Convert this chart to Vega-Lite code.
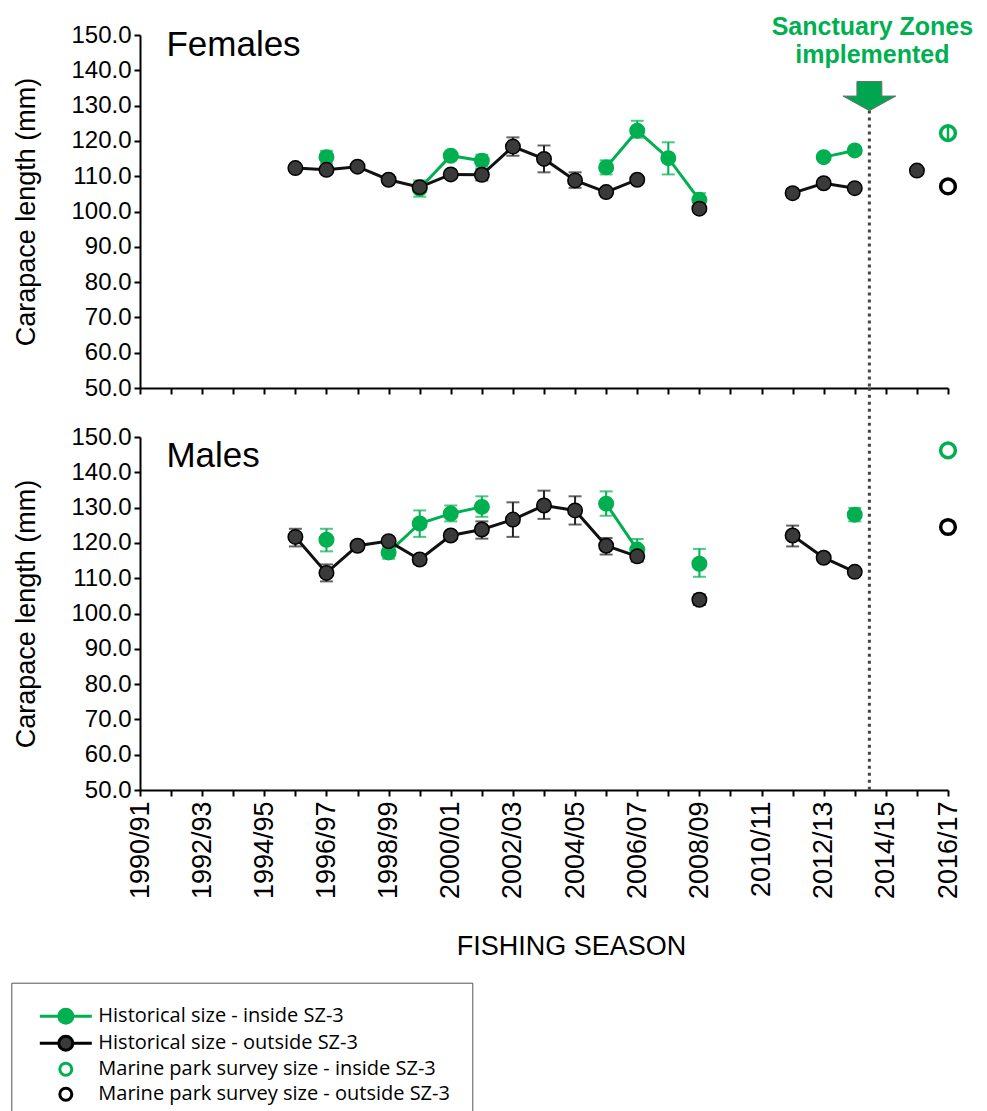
{
  "$schema": "https://vega.github.io/schema/vega-lite/v6.json",
  "padding": {"left": 10, "top": 14, "right": 0, "bottom": 0},
  "background": "white",
  "bounds": "flush",
  "spacing": 49,
  "config": {
    "view": {"stroke": null},
    "font": "Liberation Sans",
    "axis": {
      "grid": false, "domainColor": "black", "domainWidth": 2, "tickColor": "black", "tickWidth": 2, "tickSize": 6,
      "labelFont": "Liberation Sans", "labelFontSize": 24, "labelColor": "black",
      "titleFont": "Liberation Sans", "titleFontSize": 27, "titleFontWeight": "normal", "titleColor": "black"
    },
    "axisY": {"titlePadding": 30, "labelPadding": 3},
    "axisX": {"labelFontSize": 27, "titlePadding": 35, "titleFontSize": 27, "labelPadding": 5},
    "legend": {
      "orient": "none", "legendX": -128.7, "legendY": 947.7, "direction": "vertical",
      "labelFont": "Open Sans", "labelFontSize": 20, "labelColor": "black", "strokeColor": "#555555",
      "padding": 22, "rowPadding": 0, "symbolSize": 400, "symbolStrokeWidth": 3, "symbolOffset": 21, "labelOffset": 21, "labelLimit": 500
    }
  },
  "datasets": {
    "d": [
      {"kind": "event", "label": "Sanctuary Zones\nimplemented", "year": 2013.47},
      {"kind": "panel", "sex": "F", "label": "Females"},
      {"kind": "panel", "sex": "M", "label": "Males"},
      {"sex": "F", "series": "Historical size - inside SZ-3", "year": 1996, "len": 115.4, "lo": 113.6, "hi": 117.2, "seg": "i1"},
      {"sex": "F", "series": "Historical size - inside SZ-3", "year": 1999, "len": 106.5, "lo": 104.2, "hi": 108.8, "seg": "i2"},
      {"sex": "F", "series": "Historical size - inside SZ-3", "year": 2000, "len": 115.8, "seg": "i2"},
      {"sex": "F", "series": "Historical size - inside SZ-3", "year": 2001, "len": 114.4, "lo": 112.7, "hi": 116.1, "seg": "i2"},
      {"sex": "F", "series": "Historical size - inside SZ-3", "year": 2005, "len": 112.5, "lo": 110.5, "hi": 114.5, "seg": "i3"},
      {"sex": "F", "series": "Historical size - inside SZ-3", "year": 2006, "len": 122.9, "lo": 120.9, "hi": 125.7, "seg": "i3"},
      {"sex": "F", "series": "Historical size - inside SZ-3", "year": 2007, "len": 115.1, "lo": 110.5, "hi": 119.6, "seg": "i3"},
      {"sex": "F", "series": "Historical size - inside SZ-3", "year": 2008, "len": 103.3, "lo": 101.4, "hi": 105.2, "seg": "i3"},
      {"sex": "F", "series": "Historical size - inside SZ-3", "year": 2012, "len": 115.4, "seg": "i4"},
      {"sex": "F", "series": "Historical size - inside SZ-3", "year": 2013, "len": 117.3, "seg": "i4"},
      {"sex": "F", "series": "Marine park survey size - inside SZ-3", "year": 2016, "len": 122.2, "lo": 120.4, "hi": 124.0, "seg": "s1"},
      {"sex": "F", "series": "Historical size - outside SZ-3", "year": 1995, "len": 112.3, "seg": "o1"},
      {"sex": "F", "series": "Historical size - outside SZ-3", "year": 1996, "len": 111.8, "seg": "o1"},
      {"sex": "F", "series": "Historical size - outside SZ-3", "year": 1997, "len": 112.7, "seg": "o1"},
      {"sex": "F", "series": "Historical size - outside SZ-3", "year": 1998, "len": 109.0, "seg": "o1"},
      {"sex": "F", "series": "Historical size - outside SZ-3", "year": 1999, "len": 106.9, "seg": "o1"},
      {"sex": "F", "series": "Historical size - outside SZ-3", "year": 2000, "len": 110.5, "seg": "o1"},
      {"sex": "F", "series": "Historical size - outside SZ-3", "year": 2001, "len": 110.4, "lo": 108.8, "hi": 112.0, "seg": "o1"},
      {"sex": "F", "series": "Historical size - outside SZ-3", "year": 2002, "len": 118.4, "lo": 115.8, "hi": 121.0, "seg": "o1"},
      {"sex": "F", "series": "Historical size - outside SZ-3", "year": 2003, "len": 114.9, "lo": 111.1, "hi": 118.7, "seg": "o1"},
      {"sex": "F", "series": "Historical size - outside SZ-3", "year": 2004, "len": 108.8, "lo": 106.7, "hi": 111.1, "seg": "o1"},
      {"sex": "F", "series": "Historical size - outside SZ-3", "year": 2005, "len": 105.5, "seg": "o1"},
      {"sex": "F", "series": "Historical size - outside SZ-3", "year": 2006, "len": 109.0, "seg": "o1"},
      {"sex": "F", "series": "Historical size - outside SZ-3", "year": 2008, "len": 100.8, "seg": "o2"},
      {"sex": "F", "series": "Historical size - outside SZ-3", "year": 2011, "len": 105.2, "lo": 104.0, "hi": 106.4, "seg": "o3"},
      {"sex": "F", "series": "Historical size - outside SZ-3", "year": 2012, "len": 108.0, "seg": "o3"},
      {"sex": "F", "series": "Historical size - outside SZ-3", "year": 2013, "len": 106.6, "seg": "o3"},
      {"sex": "F", "series": "Historical size - outside SZ-3", "year": 2015, "len": 111.6, "seg": "o4"},
      {"sex": "F", "series": "Marine park survey size - outside SZ-3", "year": 2016, "len": 107.1, "seg": "s2"},

      {"sex": "M", "series": "Historical size - inside SZ-3", "year": 1996, "len": 120.9, "lo": 117.6, "hi": 124.0, "seg": "i1"},
      {"sex": "M", "series": "Historical size - inside SZ-3", "year": 1998, "len": 117.3, "lo": 115.5, "hi": 119.1, "seg": "i2"},
      {"sex": "M", "series": "Historical size - inside SZ-3", "year": 1999, "len": 125.5, "lo": 121.7, "hi": 129.2, "seg": "i2"},
      {"sex": "M", "series": "Historical size - inside SZ-3", "year": 2000, "len": 128.3, "lo": 126.1, "hi": 130.6, "seg": "i2"},
      {"sex": "M", "series": "Historical size - inside SZ-3", "year": 2001, "len": 130.2, "lo": 127.4, "hi": 133.2, "seg": "i2"},
      {"sex": "M", "series": "Historical size - inside SZ-3", "year": 2005, "len": 131.1, "lo": 127.7, "hi": 134.6, "seg": "i3"},
      {"sex": "M", "series": "Historical size - inside SZ-3", "year": 2006, "len": 118.1, "lo": 115.1, "hi": 121.1, "seg": "i3"},
      {"sex": "M", "series": "Historical size - inside SZ-3", "year": 2008, "len": 114.1, "lo": 110.4, "hi": 118.3, "seg": "i4"},
      {"sex": "M", "series": "Historical size - inside SZ-3", "year": 2013, "len": 128.0, "lo": 126.1, "hi": 129.9, "seg": "i5"},
      {"sex": "M", "series": "Marine park survey size - inside SZ-3", "year": 2016, "len": 146.2, "seg": "s1"},
      {"sex": "M", "series": "Historical size - outside SZ-3", "year": 1995, "len": 121.7, "lo": 119.0, "hi": 124.0, "seg": "o1"},
      {"sex": "M", "series": "Historical size - outside SZ-3", "year": 1996, "len": 111.5, "lo": 109.1, "hi": 113.9, "seg": "o1"},
      {"sex": "M", "series": "Historical size - outside SZ-3", "year": 1997, "len": 119.2, "lo": 118.0, "hi": 120.4, "seg": "o1"},
      {"sex": "M", "series": "Historical size - outside SZ-3", "year": 1998, "len": 120.5, "seg": "o1"},
      {"sex": "M", "series": "Historical size - outside SZ-3", "year": 1999, "len": 115.3, "lo": 114.0, "hi": 116.5, "seg": "o1"},
      {"sex": "M", "series": "Historical size - outside SZ-3", "year": 2000, "len": 122.1, "seg": "o1"},
      {"sex": "M", "series": "Historical size - outside SZ-3", "year": 2001, "len": 123.8, "lo": 121.2, "hi": 126.1, "seg": "o1"},
      {"sex": "M", "series": "Historical size - outside SZ-3", "year": 2002, "len": 126.6, "lo": 121.7, "hi": 131.5, "seg": "o1"},
      {"sex": "M", "series": "Historical size - outside SZ-3", "year": 2003, "len": 130.6, "lo": 126.8, "hi": 134.8, "seg": "o1"},
      {"sex": "M", "series": "Historical size - outside SZ-3", "year": 2004, "len": 129.2, "lo": 125.2, "hi": 133.2, "seg": "o1"},
      {"sex": "M", "series": "Historical size - outside SZ-3", "year": 2005, "len": 119.2, "lo": 116.7, "hi": 121.4, "seg": "o1"},
      {"sex": "M", "series": "Historical size - outside SZ-3", "year": 2006, "len": 116.2, "lo": 114.7, "hi": 117.7, "seg": "o1"},
      {"sex": "M", "series": "Historical size - outside SZ-3", "year": 2008, "len": 103.9, "lo": 102.4, "hi": 105.4, "seg": "o2"},
      {"sex": "M", "series": "Historical size - outside SZ-3", "year": 2011, "len": 122.1, "lo": 119.0, "hi": 124.9, "seg": "o3"},
      {"sex": "M", "series": "Historical size - outside SZ-3", "year": 2012, "len": 115.8, "seg": "o3"},
      {"sex": "M", "series": "Historical size - outside SZ-3", "year": 2013, "len": 111.8, "seg": "o3"},
      {"sex": "M", "series": "Marine park survey size - outside SZ-3", "year": 2016, "len": 124.5, "seg": "s2"}
    ]
  },
  "vconcat": [
    {
      "width": 808,
      "height": 353,
      "data": {"name": "d"},
      "layer": [
        {
          "transform": [{"filter": "datum.kind == 'event'"}],
          "mark": {"type": "rule", "strokeDash": [3, 4], "strokeWidth": 3, "color": "#444444"},
          "encoding": {
            "x": {"field": "year", "type": "quantitative", "scale": {"domain": [1990, 2016], "nice": false, "zero": false},
                  "axis": {"values": [1990,1991,1992,1993,1994,1995,1996,1997,1998,1999,2000,2001,2002,2003,2004,2005,2006,2007,2008,2009,2010,2011,2012,2013,2014,2015,2016], "labels": false, "title": null}},
            "y": {"datum": 128.6, "type": "quantitative", "scale": {"domain": [50, 150], "nice": false, "zero": false},
                  "axis": {"values": [50,60,70,80,90,100,110,120,130,140,150], "format": ".1f", "title": "Carapace length (mm)"}},
            "y2": {"datum": 50}
          }
        },
        {
          "transform": [{"filter": "datum.sex == 'F' && isValid(datum.lo) && datum.series == 'Historical size - inside SZ-3'"}],
          "mark": {"type": "errorbar", "ticks": {"size": 13}, "thickness": 2, "color": "#00b050"},
          "encoding": {
            "x": {"field": "year", "type": "quantitative", "scale": {"domain": [1990, 2016], "nice": false, "zero": false},
                  "axis": {"values": [1990,1991,1992,1993,1994,1995,1996,1997,1998,1999,2000,2001,2002,2003,2004,2005,2006,2007,2008,2009,2010,2011,2012,2013,2014,2015,2016], "labels": false, "title": null}},
            "y": {"field": "lo", "type": "quantitative", "title": "Carapace length (mm)", "scale": {"domain": [50, 150], "nice": false, "zero": false},
                  "axis": {"values": [50,60,70,80,90,100,110,120,130,140,150], "format": ".1f", "title": "Carapace length (mm)"}},
            "y2": {"field": "hi"}
          }
        },
        {
          "transform": [{"filter": "datum.sex == 'F' && isValid(datum.lo) && datum.series == 'Historical size - outside SZ-3'"}],
          "mark": {"type": "errorbar", "ticks": {"size": 13}, "thickness": 2, "color": "#222222"},
          "encoding": {
            "x": {"field": "year", "type": "quantitative", "scale": {"domain": [1990, 2016], "nice": false, "zero": false},
                  "axis": {"values": [1990,1991,1992,1993,1994,1995,1996,1997,1998,1999,2000,2001,2002,2003,2004,2005,2006,2007,2008,2009,2010,2011,2012,2013,2014,2015,2016], "labels": false, "title": null}},
            "y": {"field": "lo", "type": "quantitative", "title": "Carapace length (mm)", "scale": {"domain": [50, 150], "nice": false, "zero": false},
                  "axis": {"values": [50,60,70,80,90,100,110,120,130,140,150], "format": ".1f", "title": "Carapace length (mm)"}},
            "y2": {"field": "hi"}
          }
        },
        {
          "transform": [{"filter": "datum.sex == 'F' && datum.series == 'Historical size - inside SZ-3'"}],
          "mark": {"type": "line", "strokeWidth": 3, "color": "#00b050"},
          "encoding": {
            "x": {"field": "year", "type": "quantitative", "scale": {"domain": [1990, 2016], "nice": false, "zero": false},
                  "axis": {"values": [1990,1991,1992,1993,1994,1995,1996,1997,1998,1999,2000,2001,2002,2003,2004,2005,2006,2007,2008,2009,2010,2011,2012,2013,2014,2015,2016], "labels": false, "title": null}},
            "y": {"field": "len", "type": "quantitative", "scale": {"domain": [50, 150], "nice": false, "zero": false},
                  "axis": {"values": [50,60,70,80,90,100,110,120,130,140,150], "format": ".1f", "title": "Carapace length (mm)"}},
            "detail": {"field": "seg"}
          }
        },
        {
          "transform": [{"filter": "datum.sex == 'F' && datum.series == 'Historical size - outside SZ-3'"}],
          "mark": {"type": "line", "strokeWidth": 3, "color": "#111111"},
          "encoding": {
            "x": {"field": "year", "type": "quantitative", "scale": {"domain": [1990, 2016], "nice": false, "zero": false},
                  "axis": {"values": [1990,1991,1992,1993,1994,1995,1996,1997,1998,1999,2000,2001,2002,2003,2004,2005,2006,2007,2008,2009,2010,2011,2012,2013,2014,2015,2016], "labels": false, "title": null}},
            "y": {"field": "len", "type": "quantitative", "scale": {"domain": [50, 150], "nice": false, "zero": false},
                  "axis": {"values": [50,60,70,80,90,100,110,120,130,140,150], "format": ".1f", "title": "Carapace length (mm)"}},
            "detail": {"field": "seg"}
          }
        },
        {
          "transform": [{"filter": "datum.sex == 'F' && isValid(datum.series) && indexof(datum.series, 'Historical') == 0"}],
          "mark": {"type": "point", "filled": true, "size": 210, "strokeWidth": 1.5, "opacity": 1},
          "encoding": {
            "x": {"field": "year", "type": "quantitative", "scale": {"domain": [1990, 2016], "nice": false, "zero": false},
                  "axis": {"values": [1990,1991,1992,1993,1994,1995,1996,1997,1998,1999,2000,2001,2002,2003,2004,2005,2006,2007,2008,2009,2010,2011,2012,2013,2014,2015,2016], "labels": false, "title": null}},
            "y": {"field": "len", "type": "quantitative", "scale": {"domain": [50, 150], "nice": false, "zero": false},
                  "axis": {"values": [50,60,70,80,90,100,110,120,130,140,150], "format": ".1f", "title": "Carapace length (mm)"}},
            "stroke": {"field": "series", "type": "nominal", "title": null,
                       "scale": {"domain": ["Historical size - inside SZ-3", "Historical size - outside SZ-3", "Marine park survey size - inside SZ-3", "Marine park survey size - outside SZ-3"],
                                 "range": ["#00b050", "#000000", "#00b050", "#000000"]}},
            "fill": {"field": "series", "type": "nominal", "title": null,
                     "scale": {"domain": ["Historical size - inside SZ-3", "Historical size - outside SZ-3", "Marine park survey size - inside SZ-3", "Marine park survey size - outside SZ-3"],
                               "range": ["#00b050", "#3a3a3a", "transparent", "transparent"]}}
          }
        },
        {
          "transform": [{"filter": "datum.sex == 'F' && isValid(datum.lo) && isValid(datum.series) && indexof(datum.series, 'Marine') == 0"}],
          "mark": {"type": "rule", "strokeWidth": 2.5, "color": "#00b050"},
          "encoding": {
            "x": {"field": "year", "type": "quantitative", "scale": {"domain": [1990, 2016], "nice": false, "zero": false},
                  "axis": {"values": [1990,1991,1992,1993,1994,1995,1996,1997,1998,1999,2000,2001,2002,2003,2004,2005,2006,2007,2008,2009,2010,2011,2012,2013,2014,2015,2016], "labels": false, "title": null}},
            "y": {"field": "lo", "type": "quantitative", "title": "Carapace length (mm)", "scale": {"domain": [50, 150], "nice": false, "zero": false},
                  "axis": {"values": [50,60,70,80,90,100,110,120,130,140,150], "format": ".1f", "title": "Carapace length (mm)"}},
            "y2": {"field": "hi"}
          }
        },
        {
          "transform": [{"filter": "datum.sex == 'F' && isValid(datum.series) && indexof(datum.series, 'Marine') == 0"}],
          "mark": {"type": "point", "filled": true, "size": 600, "strokeWidth": 3.5, "opacity": 1},
          "encoding": {
            "x": {"field": "year", "type": "quantitative", "scale": {"domain": [1990, 2016], "nice": false, "zero": false},
                  "axis": {"values": [1990,1991,1992,1993,1994,1995,1996,1997,1998,1999,2000,2001,2002,2003,2004,2005,2006,2007,2008,2009,2010,2011,2012,2013,2014,2015,2016], "labels": false, "title": null}},
            "y": {"field": "len", "type": "quantitative", "scale": {"domain": [50, 150], "nice": false, "zero": false},
                  "axis": {"values": [50,60,70,80,90,100,110,120,130,140,150], "format": ".1f", "title": "Carapace length (mm)"}},
            "stroke": {"field": "series", "type": "nominal", "title": null},
            "fill": {"field": "series", "type": "nominal", "title": null},
            "shape": {"field": "series", "type": "nominal", "title": null,
                      "scale": {"domain": ["Historical size - inside SZ-3", "Historical size - outside SZ-3", "Marine park survey size - inside SZ-3", "Marine park survey size - outside SZ-3"],
                                "range": ["M-2.6,0H-0.7A0.7,0.7,0,1,1,0.7,0A0.7,0.7,0,1,1,-0.7,0M0.7,0H2.6", "M-2.6,0H-0.7A0.7,0.7,0,1,1,0.7,0A0.7,0.7,0,1,1,-0.7,0M0.7,0H2.6", "M-0.6,0A0.6,0.6,0,1,1,0.6,0A0.6,0.6,0,1,1,-0.6,0Z", "M-0.6,0A0.6,0.6,0,1,1,0.6,0A0.6,0.6,0,1,1,-0.6,0Z"]}}
          }
        },
        {
          "transform": [{"filter": "datum.kind == 'event'"}],
          "mark": {"type": "point", "shape": "M-0.47,-0.55H0.47V0H1L0,0.55L-1,0H-0.47Z", "size": 2809, "filled": true, "fill": "#00a550", "stroke": "#707070", "strokeWidth": 1, "opacity": 1},
          "encoding": {
            "x": {"field": "year", "type": "quantitative", "scale": {"domain": [1990, 2016], "nice": false, "zero": false},
                  "axis": {"values": [1990,1991,1992,1993,1994,1995,1996,1997,1998,1999,2000,2001,2002,2003,2004,2005,2006,2007,2008,2009,2010,2011,2012,2013,2014,2015,2016], "labels": false, "title": null}},
            "y": {"datum": 132.7, "type": "quantitative", "scale": {"domain": [50, 150], "nice": false, "zero": false},
                  "axis": {"values": [50,60,70,80,90,100,110,120,130,140,150], "format": ".1f", "title": "Carapace length (mm)"}}
          }
        },
        {
          "transform": [{"filter": "datum.kind == 'event'"}],
          "mark": {"type": "text", "align": "center", "baseline": "alphabetic", "fontSize": 25, "fontWeight": "bold", "lineHeight": 28, "color": "#00b050", "font": "Liberation Sans", "lineBreak": "\n", "dx": 3},
          "encoding": {
            "x": {"field": "year", "type": "quantitative", "scale": {"domain": [1990, 2016], "nice": false, "zero": false},
                  "axis": {"values": [1990,1991,1992,1993,1994,1995,1996,1997,1998,1999,2000,2001,2002,2003,2004,2005,2006,2007,2008,2009,2010,2011,2012,2013,2014,2015,2016], "labels": false, "title": null}},
            "y": {"datum": 150.1, "type": "quantitative", "scale": {"domain": [50, 150], "nice": false, "zero": false},
                  "axis": {"values": [50,60,70,80,90,100,110,120,130,140,150], "format": ".1f", "title": "Carapace length (mm)"}},
            "text": {"field": "label"}
          }
        },
        {
          "transform": [{"filter": "datum.kind == 'panel' && datum.sex == 'F'"}],
          "mark": {"type": "text", "align": "left", "baseline": "alphabetic", "fontSize": 35, "color": "black", "font": "Liberation Sans"},
          "encoding": {
            "text": {"field": "label"},
            "x": {"datum": 1990.85, "type": "quantitative", "scale": {"domain": [1990, 2016], "nice": false, "zero": false},
                  "axis": {"values": [1990,1991,1992,1993,1994,1995,1996,1997,1998,1999,2000,2001,2002,2003,2004,2005,2006,2007,2008,2009,2010,2011,2012,2013,2014,2015,2016], "labels": false, "title": null}},
            "y": {"datum": 144.1, "type": "quantitative", "scale": {"domain": [50, 150], "nice": false, "zero": false},
                  "axis": {"values": [50,60,70,80,90,100,110,120,130,140,150], "format": ".1f", "title": "Carapace length (mm)"}}
          }
        }
      ]
    },
    {
      "width": 808,
      "height": 353,
      "data": {"name": "d"},
      "layer": [
        {
          "transform": [{"filter": "datum.kind == 'event'"}],
          "mark": {"type": "rule", "strokeDash": [3, 4], "strokeWidth": 3, "color": "#444444"},
          "encoding": {
            "x": {"field": "year", "type": "quantitative", "scale": {"domain": [1990, 2016], "nice": false, "zero": false},
                  "axis": {"values": [1990,1991,1992,1993,1994,1995,1996,1997,1998,1999,2000,2001,2002,2003,2004,2005,2006,2007,2008,2009,2010,2011,2012,2013,2014,2015,2016],
                           "labelExpr": "datum.value % 2 == 0 ? datum.value + '/' + substring(toString(datum.value + 1), 2, 4) : ''",
                           "labelAngle": 270, "labelOverlap": false, "labelFlush": false, "title": "FISHING SEASON", "titleX": 431, "titleAlign": "center"}},
            "y": {"datum": 163.95, "type": "quantitative", "scale": {"domain": [50, 150], "nice": false, "zero": false},
                  "axis": {"values": [50,60,70,80,90,100,110,120,130,140,150], "format": ".1f", "title": "Carapace length (mm)"}},
            "y2": {"datum": 50}
          }
        },
        {
          "transform": [{"filter": "datum.sex == 'M' && isValid(datum.lo) && datum.series == 'Historical size - inside SZ-3'"}],
          "mark": {"type": "errorbar", "ticks": {"size": 13}, "thickness": 2, "color": "#00b050"},
          "encoding": {
            "x": {"field": "year", "type": "quantitative", "scale": {"domain": [1990, 2016], "nice": false, "zero": false},
                  "axis": {"values": [1990,1991,1992,1993,1994,1995,1996,1997,1998,1999,2000,2001,2002,2003,2004,2005,2006,2007,2008,2009,2010,2011,2012,2013,2014,2015,2016],
                           "labelExpr": "datum.value % 2 == 0 ? datum.value + '/' + substring(toString(datum.value + 1), 2, 4) : ''",
                           "labelAngle": 270, "labelOverlap": false, "labelFlush": false, "title": "FISHING SEASON", "titleX": 431, "titleAlign": "center"}},
            "y": {"field": "lo", "type": "quantitative", "title": "Carapace length (mm)", "scale": {"domain": [50, 150], "nice": false, "zero": false},
                  "axis": {"values": [50,60,70,80,90,100,110,120,130,140,150], "format": ".1f", "title": "Carapace length (mm)"}},
            "y2": {"field": "hi"}
          }
        },
        {
          "transform": [{"filter": "datum.sex == 'M' && isValid(datum.lo) && datum.series == 'Historical size - outside SZ-3'"}],
          "mark": {"type": "errorbar", "ticks": {"size": 13}, "thickness": 2, "color": "#222222"},
          "encoding": {
            "x": {"field": "year", "type": "quantitative", "scale": {"domain": [1990, 2016], "nice": false, "zero": false},
                  "axis": {"values": [1990,1991,1992,1993,1994,1995,1996,1997,1998,1999,2000,2001,2002,2003,2004,2005,2006,2007,2008,2009,2010,2011,2012,2013,2014,2015,2016],
                           "labelExpr": "datum.value % 2 == 0 ? datum.value + '/' + substring(toString(datum.value + 1), 2, 4) : ''",
                           "labelAngle": 270, "labelOverlap": false, "labelFlush": false, "title": "FISHING SEASON", "titleX": 431, "titleAlign": "center"}},
            "y": {"field": "lo", "type": "quantitative", "title": "Carapace length (mm)", "scale": {"domain": [50, 150], "nice": false, "zero": false},
                  "axis": {"values": [50,60,70,80,90,100,110,120,130,140,150], "format": ".1f", "title": "Carapace length (mm)"}},
            "y2": {"field": "hi"}
          }
        },
        {
          "transform": [{"filter": "datum.sex == 'M' && datum.series == 'Historical size - inside SZ-3'"}],
          "mark": {"type": "line", "strokeWidth": 3, "color": "#00b050"},
          "encoding": {
            "x": {"field": "year", "type": "quantitative", "scale": {"domain": [1990, 2016], "nice": false, "zero": false},
                  "axis": {"values": [1990,1991,1992,1993,1994,1995,1996,1997,1998,1999,2000,2001,2002,2003,2004,2005,2006,2007,2008,2009,2010,2011,2012,2013,2014,2015,2016],
                           "labelExpr": "datum.value % 2 == 0 ? datum.value + '/' + substring(toString(datum.value + 1), 2, 4) : ''",
                           "labelAngle": 270, "labelOverlap": false, "labelFlush": false, "title": "FISHING SEASON", "titleX": 431, "titleAlign": "center"}},
            "y": {"field": "len", "type": "quantitative", "scale": {"domain": [50, 150], "nice": false, "zero": false},
                  "axis": {"values": [50,60,70,80,90,100,110,120,130,140,150], "format": ".1f", "title": "Carapace length (mm)"}},
            "detail": {"field": "seg"}
          }
        },
        {
          "transform": [{"filter": "datum.sex == 'M' && datum.series == 'Historical size - outside SZ-3'"}],
          "mark": {"type": "line", "strokeWidth": 3, "color": "#111111"},
          "encoding": {
            "x": {"field": "year", "type": "quantitative", "scale": {"domain": [1990, 2016], "nice": false, "zero": false},
                  "axis": {"values": [1990,1991,1992,1993,1994,1995,1996,1997,1998,1999,2000,2001,2002,2003,2004,2005,2006,2007,2008,2009,2010,2011,2012,2013,2014,2015,2016],
                           "labelExpr": "datum.value % 2 == 0 ? datum.value + '/' + substring(toString(datum.value + 1), 2, 4) : ''",
                           "labelAngle": 270, "labelOverlap": false, "labelFlush": false, "title": "FISHING SEASON", "titleX": 431, "titleAlign": "center"}},
            "y": {"field": "len", "type": "quantitative", "scale": {"domain": [50, 150], "nice": false, "zero": false},
                  "axis": {"values": [50,60,70,80,90,100,110,120,130,140,150], "format": ".1f", "title": "Carapace length (mm)"}},
            "detail": {"field": "seg"}
          }
        },
        {
          "transform": [{"filter": "datum.sex == 'M' && isValid(datum.series) && indexof(datum.series, 'Historical') == 0"}],
          "mark": {"type": "point", "filled": true, "size": 210, "strokeWidth": 1.5, "opacity": 1},
          "encoding": {
            "x": {"field": "year", "type": "quantitative", "scale": {"domain": [1990, 2016], "nice": false, "zero": false},
                  "axis": {"values": [1990,1991,1992,1993,1994,1995,1996,1997,1998,1999,2000,2001,2002,2003,2004,2005,2006,2007,2008,2009,2010,2011,2012,2013,2014,2015,2016],
                           "labelExpr": "datum.value % 2 == 0 ? datum.value + '/' + substring(toString(datum.value + 1), 2, 4) : ''",
                           "labelAngle": 270, "labelOverlap": false, "labelFlush": false, "title": "FISHING SEASON", "titleX": 431, "titleAlign": "center"}},
            "y": {"field": "len", "type": "quantitative", "scale": {"domain": [50, 150], "nice": false, "zero": false},
                  "axis": {"values": [50,60,70,80,90,100,110,120,130,140,150], "format": ".1f", "title": "Carapace length (mm)"}},
            "stroke": {"field": "series", "type": "nominal", "title": null},
            "fill": {"field": "series", "type": "nominal", "title": null}
          }
        },
        {
          "transform": [{"filter": "datum.sex == 'M' && isValid(datum.series) && indexof(datum.series, 'Marine') == 0"}],
          "mark": {"type": "point", "filled": true, "size": 600, "strokeWidth": 3.5, "opacity": 1},
          "encoding": {
            "x": {"field": "year", "type": "quantitative", "scale": {"domain": [1990, 2016], "nice": false, "zero": false},
                  "axis": {"values": [1990,1991,1992,1993,1994,1995,1996,1997,1998,1999,2000,2001,2002,2003,2004,2005,2006,2007,2008,2009,2010,2011,2012,2013,2014,2015,2016],
                           "labelExpr": "datum.value % 2 == 0 ? datum.value + '/' + substring(toString(datum.value + 1), 2, 4) : ''",
                           "labelAngle": 270, "labelOverlap": false, "labelFlush": false, "title": "FISHING SEASON", "titleX": 431, "titleAlign": "center"}},
            "y": {"field": "len", "type": "quantitative", "scale": {"domain": [50, 150], "nice": false, "zero": false},
                  "axis": {"values": [50,60,70,80,90,100,110,120,130,140,150], "format": ".1f", "title": "Carapace length (mm)"}},
            "stroke": {"field": "series", "type": "nominal", "title": null},
            "fill": {"field": "series", "type": "nominal", "title": null},
            "shape": {"field": "series", "type": "nominal", "title": null}
          }
        },
        {
          "transform": [{"filter": "datum.kind == 'panel' && datum.sex == 'M'"}],
          "mark": {"type": "text", "align": "left", "baseline": "alphabetic", "fontSize": 35, "color": "black", "font": "Liberation Sans"},
          "encoding": {
            "text": {"field": "label"},
            "x": {"datum": 1990.85, "type": "quantitative", "scale": {"domain": [1990, 2016], "nice": false, "zero": false},
                  "axis": {"values": [1990,1991,1992,1993,1994,1995,1996,1997,1998,1999,2000,2001,2002,2003,2004,2005,2006,2007,2008,2009,2010,2011,2012,2013,2014,2015,2016],
                           "labelExpr": "datum.value % 2 == 0 ? datum.value + '/' + substring(toString(datum.value + 1), 2, 4) : ''",
                           "labelAngle": 270, "labelOverlap": false, "labelFlush": false, "title": "FISHING SEASON", "titleX": 431, "titleAlign": "center"}},
            "y": {"datum": 141.6, "type": "quantitative", "scale": {"domain": [50, 150], "nice": false, "zero": false},
                  "axis": {"values": [50,60,70,80,90,100,110,120,130,140,150], "format": ".1f", "title": "Carapace length (mm)"}}
          }
        }
      ]
    }
  ]
}
